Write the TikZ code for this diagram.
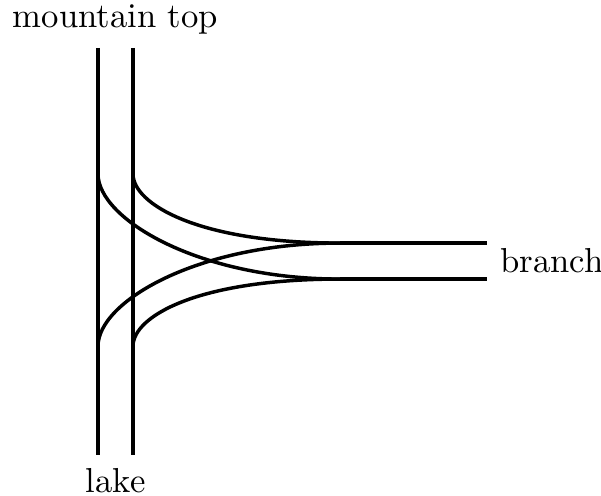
\documentclass[tikz,border=0pt]{standalone}
\usepackage{tikz}
\usepackage{amsmath}

\begin{document}
\begin{tikzpicture}[line width=1pt]
		\useasboundingbox (-0.994,-0.406) rectangle (5.101,4.615);
		\coordinate (topL) at (0,4.13);
		\coordinate (topR) at (0.355,4.13);
		\coordinate (botL) at (0,0);
		\coordinate (botR) at (0.355,0);
		\coordinate (upL) at (0,2.85);
		\coordinate (upR) at (0.355,2.85);
		\coordinate (lowL) at (0,1.105);
		\coordinate (lowR) at (0.355,1.105);
		\coordinate (joinA) at (2.454,2.15);
		\coordinate (joinB) at (2.454,1.785);
		\coordinate (endA) at (3.945,2.15);
		\coordinate (endB) at (3.945,1.785);
  		\draw (topL)--(botL);
  		\draw (topR)--(botR);
  		\draw (joinA)--(endA);
  		\draw (joinB)--(endB);
  		\draw (upL) .. controls +(0,-0.45) and +(-1.45,0) .. (joinB);
  		\draw (upR) .. controls +(0,-0.3) and +(-1.45,0) .. (joinA);
  		\draw (lowL) .. controls +(0,0.45) and +(-1.45,0) .. (joinA);
  		\draw (lowR) .. controls +(0,0.3) and +(-1.45,0) .. (joinB);
  		\node[above] (mtop) at (0.1775,4.13) {mountain top};
  		\node[below] (lake) at (0.1775,0) {lake};
  		\node[anchor=west] (branch) at (3.945,1.9675) {branch};
	\end{tikzpicture}
\end{document}
